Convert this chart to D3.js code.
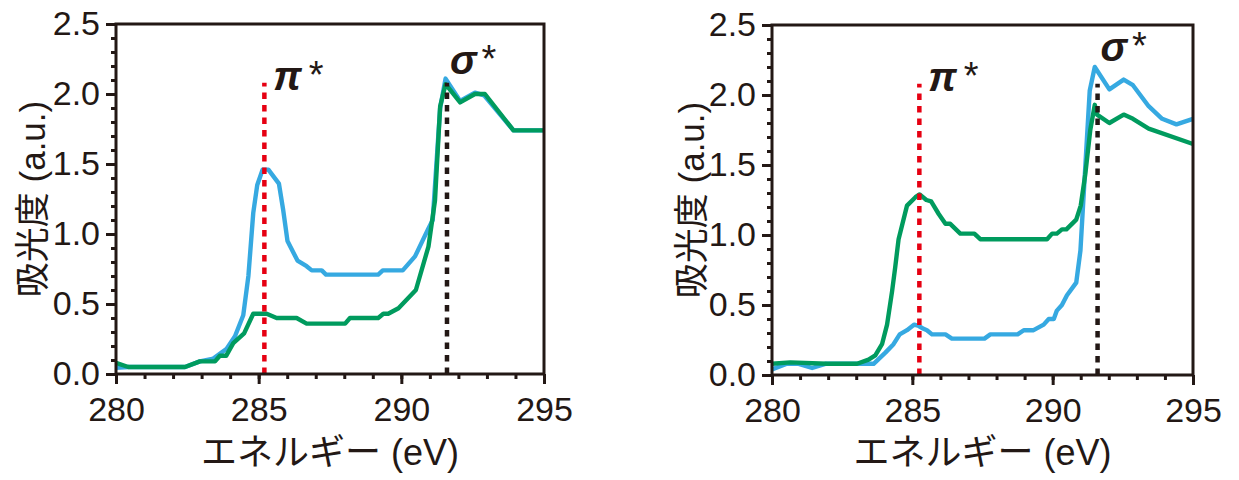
<!DOCTYPE html>
<html>
<head>
<meta charset="utf-8">
<script src="https://cdn.jsdelivr.net/npm/d3@7"></script>
<style>
  html, body { margin: 0; padding: 0; background: #fff; }
  svg { display: block; }
  text { font-family: "Liberation Sans", Arial, "Noto Sans CJK JP", sans-serif; fill: #231815; }
</style>
</head>
<body>
<svg id="chart" width="1239" height="480"></svg>
<script>
// ---------- data ----------
const xTickLabels = [280, 285, 290, 295];
const yTickLabels = [0.0, 0.5, 1.0, 1.5, 2.0, 2.5];
const xTitle = "エネルギー (eV)";
const yTitle = "吸光度 (a.u.)";

// left panel
const leftBlueX = [280, 280.43, 282.42, 282.94, 283.41, 283.88, 284.17, 284.46, 284.64, 284.81, 284.95, 285.14, 285.34, 285.71, 285.86, 286.01, 286.36, 286.68, 286.86, 287.21, 287.36, 289.19, 289.35, 290.05, 290.48, 290.95, 291.1, 291.36, 291.55, 292.06, 292.58, 292.9, 293.93, 295];
const leftBlueY = [0.045, 0.05, 0.05, 0.09, 0.11, 0.18, 0.27, 0.42, 0.70, 1.15, 1.35, 1.46, 1.46, 1.36, 1.17, 0.95, 0.81, 0.77, 0.74, 0.74, 0.71, 0.71, 0.74, 0.74, 0.84, 1.04, 1.10, 1.90, 2.11, 1.95, 2.01, 1.99, 1.74, 1.74];
const leftGreenX = [280, 280.43, 282.42, 282.94, 283.47, 283.64, 283.86, 284.11, 284.49, 284.81, 285.28, 285.63, 286.33, 286.68, 288.03, 288.2, 289.19, 289.37, 289.54, 289.9, 290.51, 290.95, 291.18, 291.36, 291.55, 292.06, 292.58, 292.93, 293.93, 295];
const leftGreenY = [0.08, 0.05, 0.05, 0.09, 0.09, 0.13, 0.13, 0.22, 0.29, 0.43, 0.43, 0.40, 0.40, 0.36, 0.36, 0.40, 0.40, 0.43, 0.43, 0.47, 0.60, 0.91, 1.24, 1.91, 2.07, 1.94, 2.00, 2.00, 1.74, 1.74];

// right panel
const rightBlueX = [280, 280.53, 280.95, 281.43, 281.9, 283.62, 284.04, 284.33, 284.55, 284.81, 285.07, 285.23, 285.4, 285.52, 285.7, 286.18, 286.41, 287.57, 287.78, 288.75, 288.97, 289.32, 289.68, 289.86, 290.04, 290.15, 290.33, 290.51, 290.84, 290.99, 291.16, 291.32, 291.5, 292.02, 292.53, 292.86, 293.42, 293.9, 294.41, 295];
const rightBlueY = [0.04, 0.08, 0.08, 0.05, 0.08, 0.08, 0.16, 0.22, 0.29, 0.32, 0.36, 0.35, 0.33, 0.32, 0.29, 0.29, 0.26, 0.26, 0.29, 0.29, 0.32, 0.32, 0.36, 0.40, 0.40, 0.46, 0.50, 0.57, 0.66, 0.89, 1.48, 2.03, 2.20, 2.04, 2.11, 2.07, 1.92, 1.83, 1.79, 1.83];
const rightGreenX = [280, 280.65, 281.96, 283.03, 283.44, 283.68, 283.92, 284.1, 284.28, 284.39, 284.51, 284.81, 285.11, 285.26, 285.5, 285.67, 285.94, 286.18, 286.35, 286.71, 287.21, 287.42, 289.8, 289.98, 290.15, 290.33, 290.49, 290.84, 291.0, 291.16, 291.34, 291.5, 291.58, 292.02, 292.53, 292.86, 293.42, 295];
const rightGreenY = [0.08, 0.09, 0.08, 0.08, 0.11, 0.14, 0.22, 0.36, 0.60, 0.77, 0.97, 1.21, 1.27, 1.29, 1.25, 1.24, 1.15, 1.08, 1.08, 1.01, 1.01, 0.97, 0.97, 1.01, 1.01, 1.04, 1.04, 1.11, 1.21, 1.43, 1.75, 1.93, 1.86, 1.80, 1.86, 1.83, 1.76, 1.65];

// annotation markers (energy, top of dotted line, label level)
const leftPiMarker = [285.2, 2.08, 2.03];
const leftSigmaMarker = [291.6, 2.08, 2.14];
const rightPiMarker = [285.25, 2.08, 2.03];
const rightSigmaMarker = [291.6, 2.08, 2.24];

// ---------- styles ----------
const BLUE = "#36a9e1";
const GREEN = "#009b5e";
const RED = "#e60012";
const INK = "#231815";

const svg = d3.select("#chart");

function panel(cfg) {
  const x = d3.scaleLinear().domain([280, 295]).range([cfg.x0, cfg.x1]);
  const y = d3.scaleLinear().domain([0, 2.5]).range([cfg.y0, cfg.y1]);
  const g = svg.append("g");

  const line = d3.line().x(d => x(d[0])).y(d => y(d[1]));

  // curves
  g.append("path")
    .datum(d3.zip(cfg.blueX, cfg.blueY))
    .attr("d", line).attr("fill", "none").attr("stroke", BLUE)
    .attr("stroke-width", 4.4).attr("stroke-linejoin", "round");
  g.append("path")
    .datum(d3.zip(cfg.greenX, cfg.greenY))
    .attr("d", line).attr("fill", "none").attr("stroke", GREEN)
    .attr("stroke-width", 4.4).attr("stroke-linejoin", "round");

  // dotted marker lines
  [[cfg.pi, RED], [cfg.sigma, INK]].forEach(([m, c]) => {
    g.append("line")
      .attr("x1", x(m[0])).attr("x2", x(m[0]))
      .attr("y1", y(0)).attr("y2", y(m[1]))
      .attr("stroke", c).attr("stroke-width", 4.5)
      .attr("stroke-dasharray", "6.5,6");
  });

  // labels
  const piT = g.append("text").attr("x", x(cfg.pi[0]) + 9).attr("y", y(cfg.pi[2]))
    .style("font-size", "40px");
  piT.append("tspan").text("π").style("font-style", "italic").style("font-weight", "bold");
  piT.append("tspan").text("*").attr("dx", 7).attr("dy", -2).style("font-size", "38px");

  const sgT = g.append("text").attr("x", x(cfg.sigma[0]) + 3).attr("y", y(cfg.sigma[2]))
    .style("font-size", "40px");
  sgT.append("tspan").text("σ").style("font-style", "italic").style("font-weight", "bold");
  sgT.append("tspan").text("*").attr("dx", 5).attr("dy", -2).style("font-size", "38px");

  // axes
  const minorY = d3.range(0, 2.501, 0.1).map(v => +v.toFixed(1));
  const minorX = d3.range(280, 296, 1);

  const yMinor = g.append("g").attr("transform", `translate(${cfg.x0},0)`)
    .call(d3.axisLeft(y).tickValues(minorY).tickSize(5).tickFormat(""));
  const yMajor = g.append("g").attr("transform", `translate(${cfg.x0},0)`)
    .call(d3.axisLeft(y).tickValues(yTickLabels).tickSize(10).tickPadding(6).tickFormat(d3.format(".1f")));
  const xMinor = g.append("g").attr("transform", `translate(0,${cfg.y0})`)
    .call(d3.axisBottom(x).tickValues(minorX).tickSize(5).tickFormat(""));
  const xMajor = g.append("g").attr("transform", `translate(0,${cfg.y0})`)
    .call(d3.axisBottom(x).tickValues(xTickLabels).tickSize(10).tickPadding(13).tickFormat(d3.format("d")));

  [yMinor, yMajor, xMinor, xMajor].forEach(a => {
    a.select(".domain").remove();
    a.selectAll("line").attr("stroke", INK).attr("stroke-width", 3);
    a.selectAll("text").style("font-size", "34px").attr("fill", INK)
      .style("font-family", '"Liberation Sans", Arial, sans-serif');
  });

  // frame
  g.append("rect")
    .attr("x", cfg.x0).attr("y", cfg.y1)
    .attr("width", cfg.x1 - cfg.x0).attr("height", cfg.y0 - cfg.y1)
    .attr("fill", "none").attr("stroke", INK).attr("stroke-width", 3);

  // titles
  g.append("text")
    .attr("x", (cfg.x0 + cfg.x1) / 2).attr("y", 465)
    .attr("text-anchor", "middle").style("font-size", "36px")
    .text(xTitle);
  g.append("text")
    .attr("transform", `translate(${cfg.titleX},${(cfg.y0 + cfg.y1) / 2}) rotate(-90)`)
    .attr("text-anchor", "middle").style("font-size", "35px")
    .text(yTitle);
}

panel({ x0: 116, x1: 544, y0: 374, y1: 24, titleX: 45,
  blueX: leftBlueX, blueY: leftBlueY, greenX: leftGreenX, greenY: leftGreenY,
  pi: leftPiMarker, sigma: leftSigmaMarker });
panel({ x0: 772, x1: 1193, y0: 375, y1: 25, titleX: 704,
  blueX: rightBlueX, blueY: rightBlueY, greenX: rightGreenX, greenY: rightGreenY,
  pi: rightPiMarker, sigma: rightSigmaMarker });
</script>
</body>
</html>
